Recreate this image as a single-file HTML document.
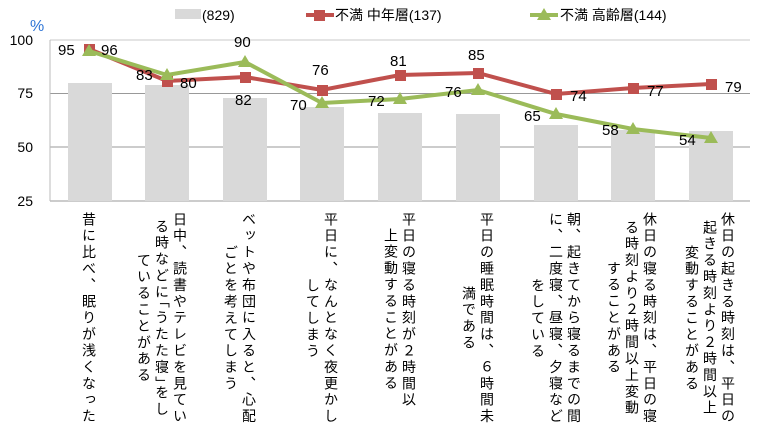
<!DOCTYPE html>
<html><head><meta charset="utf-8"><style>
body{margin:0;width:758px;height:448px;background:#fff;overflow:hidden;position:relative;font-family:"Liberation Sans","Noto Sans CJK JP",sans-serif;}
.v{position:absolute;top:212px;writing-mode:vertical-rl;text-align:center;font-size:14px;letter-spacing:2.4px;line-height:18px;color:#000;transform:translateX(-50%);white-space:nowrap;}
svg{position:absolute;left:0;top:0}
</style></head><body>
<svg width="758" height="448" font-family="Liberation Sans, Noto Sans CJK JP, sans-serif">
<line x1="50" y1="40" x2="750" y2="40" stroke="#c8c8c8"/>
<line x1="50" y1="93.5" x2="750" y2="93.5" stroke="#999"/>
<line x1="50" y1="147" x2="750" y2="147" stroke="#999"/>
<line x1="50" y1="201" x2="750" y2="201" stroke="#999"/>
<line x1="50" y1="40" x2="50" y2="201" stroke="#bbb"/>
<g fill="#d9d9d9">
<rect x="68" y="83" width="44" height="118"/>
<rect x="145" y="85" width="44" height="116"/>
<rect x="223" y="98" width="44" height="103"/>
<rect x="300" y="107" width="44" height="94"/>
<rect x="378" y="113" width="44" height="88"/>
<rect x="456" y="114" width="44" height="87"/>
<rect x="534" y="125" width="44" height="76"/>
<rect x="611" y="130" width="44" height="71"/>
<rect x="689" y="131" width="44" height="70"/>
</g>
<g font-size="14" fill="#000" text-anchor="end">
<text x="33" y="45">100</text><text x="33" y="98">75</text><text x="33" y="152">50</text><text x="33" y="206">25</text>
</g>
<text x="30" y="31" font-size="16" fill="#2e75d6">%</text>
<polyline fill="none" stroke="#c0504d" stroke-width="4" points="89,49 167,81 245,77 322,90 400,75 478,73 556,94 633,88 711,84"/>
<g fill="#c0504d">
<rect x="84" y="44" width="11" height="11"/><rect x="162" y="76" width="11" height="11"/><rect x="240" y="72" width="11" height="11"/><rect x="317" y="85" width="11" height="11"/><rect x="395" y="70" width="11" height="11"/><rect x="473" y="68" width="11" height="11"/><rect x="551" y="89" width="11" height="11"/><rect x="628" y="83" width="11" height="11"/><rect x="706" y="79" width="11" height="11"/>
</g>
<polyline fill="none" stroke="#9bbb59" stroke-width="4" points="89,51 167,75 245,62 322,103 400,99 478,90 556,114 633,129 711,138"/>
<g fill="#9bbb59">
<polygon points="89,44 96,56 82,56"/><polygon points="167,68 174,80 160,80"/><polygon points="245,55 252,67 238,67"/><polygon points="322,96 329,108 315,108"/><polygon points="400,92 407,104 393,104"/><polygon points="478,83 485,95 471,95"/><polygon points="556,107 563,119 549,119"/><polygon points="633,122 640,134 626,134"/><polygon points="711,131 718,143 704,143"/>
</g>
<g font-size="15" fill="#000">
<text x="58" y="55">95</text><text x="101" y="55">96</text>
<text x="136" y="80">83</text><text x="180" y="88">80</text>
<text x="234" y="47">90</text><text x="235" y="105">82</text>
<text x="312" y="75">76</text><text x="290" y="110">70</text>
<text x="390" y="66">81</text><text x="368" y="106">72</text>
<text x="468" y="60">85</text><text x="445" y="97">76</text>
<text x="570" y="101">74</text><text x="524" y="121">65</text>
<text x="647" y="96">77</text><text x="602" y="135">58</text>
<text x="725" y="92">79</text><text x="679" y="145">54</text>
</g>
<rect x="175" y="9" width="26" height="10" fill="#d9d9d9"/>
<text x="202" y="20" font-size="14">(829)</text>
<line x1="306" y1="15" x2="334" y2="15" stroke="#c0504d" stroke-width="4"/><rect x="314" y="10" width="11" height="11" fill="#c0504d"/>
<text x="335" y="20" font-size="14">不満 中年層(137)</text>
<line x1="530" y1="15" x2="558" y2="15" stroke="#9bbb59" stroke-width="4"/><polygon points="544,8 551,20 537,20" fill="#9bbb59"/>
<text x="560" y="20" font-size="14">不満 高齢層(144)</text>
</svg>
<div class="v" style="left:89px">昔に比べ、眠りが浅くなった</div>
<div class="v" style="left:162px">日中、読書やテレビを見てい<br>る時などに｢うたた寝｣をし<br>ていることがある</div>
<div class="v" style="left:240px">ベットや布団に入ると、心配<br>ごとを考えてしまう</div>
<div class="v" style="left:322px">平日に、なんとなく夜更かし<br>してしまう</div>
<div class="v" style="left:400px">平日の寝る時刻が２時間以<br>上変動することがある</div>
<div class="v" style="left:478px">平日の睡眠時間は、６時間未<br>満である</div>
<div class="v" style="left:556px">朝、起きてから寝るまでの間<br>に、二度寝、昼寝、夕寝など<br>をしている</div>
<div class="v" style="left:632px">休日の寝る時刻は、平日の寝<br>る時刻より２時間以上変動<br>することがある</div>
<div class="v" style="left:710px">休日の起きる時刻は、平日の<br>起きる時刻より２時間以上<br>変動することがある</div>
</body></html>
